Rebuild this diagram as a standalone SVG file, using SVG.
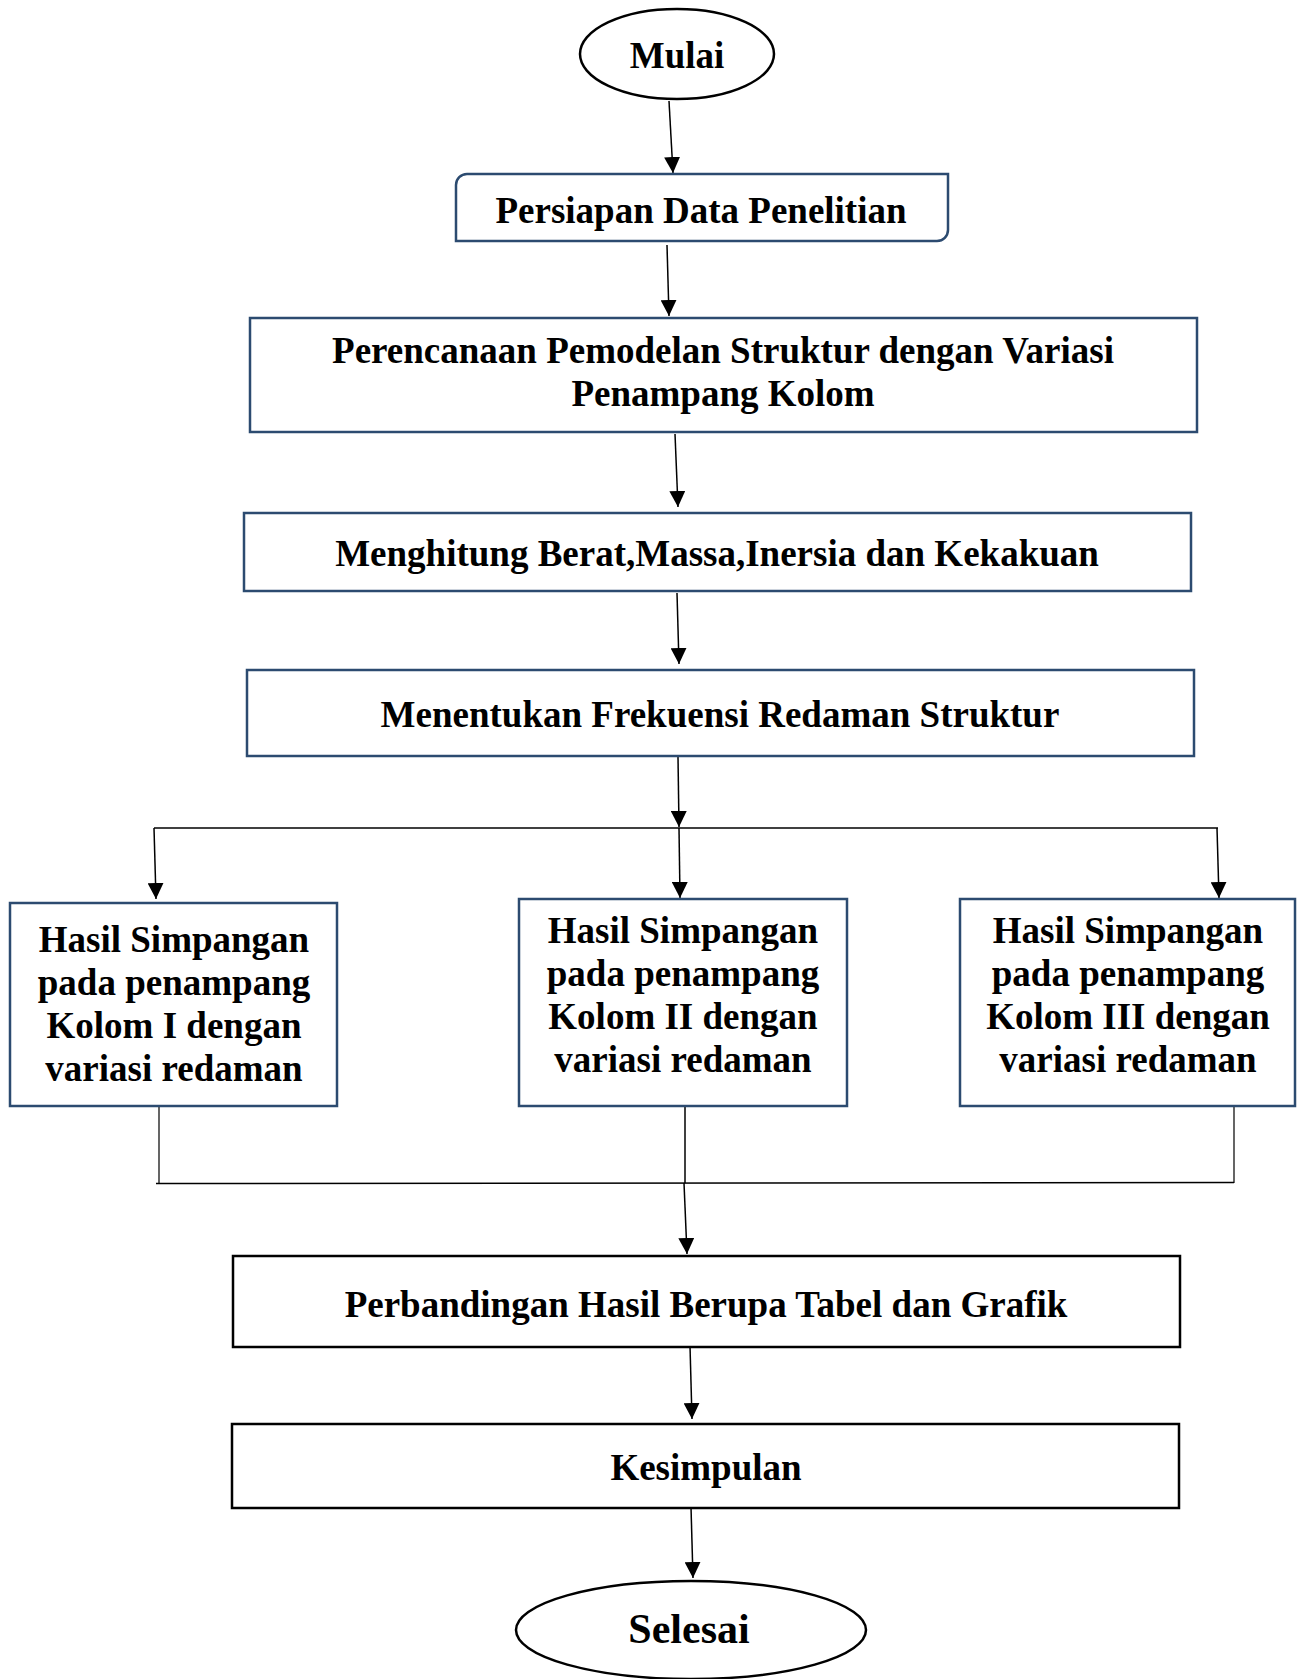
<svg xmlns="http://www.w3.org/2000/svg" width="1299" height="1679" viewBox="0 0 1299 1679">
<style>
.t{font-family:"Liberation Serif","Times New Roman",serif;font-weight:bold;font-size:37px;fill:#000;text-anchor:middle}
.bx{fill:#fff;stroke:#2c4b70;stroke-width:2.5}
.bk{fill:#fff;stroke:#000;stroke-width:2.5}
.el{fill:#fff;stroke:#000;stroke-width:2.5}
.c{stroke:#000;stroke-width:1.5;fill:none}
.g{stroke:#555;stroke-width:1.8;fill:none}
</style>
<defs>
<marker id="ah" markerUnits="userSpaceOnUse" markerWidth="16" markerHeight="16" refX="16" refY="8" orient="auto">
<path d="M0,0 L16,8 L0,16 Z" fill="#000"/>
</marker>
</defs>
<rect width="1299" height="1679" fill="#fff"/>
<g id="connectors">
<line class="c" x1="669" y1="101" x2="673" y2="173" marker-end="url(#ah)"/>
<line class="c" x1="667" y1="245" x2="669" y2="316" marker-end="url(#ah)"/>
<line class="c" x1="675" y1="434" x2="678" y2="507" marker-end="url(#ah)"/>
<line class="c" x1="677" y1="593" x2="679" y2="664" marker-end="url(#ah)"/>
<line class="c" x1="678" y1="757" x2="679" y2="827" marker-end="url(#ah)"/>
<line class="c" x1="154" y1="828" x2="1218" y2="828"/>
<line class="c" x1="154" y1="828" x2="156" y2="899" marker-end="url(#ah)"/>
<line class="c" x1="679" y1="828" x2="680" y2="898" marker-end="url(#ah)"/>
<line class="c" x1="1217" y1="828" x2="1219" y2="898" marker-end="url(#ah)"/>
<line class="g" x1="159" y1="1106" x2="159" y2="1183"/>
<line class="g" x1="1234" y1="1106" x2="1234" y2="1183"/>
<line class="c" x1="685" y1="1106" x2="685" y2="1183"/>
<line class="c" x1="156" y1="1183.5" x2="1234" y2="1182.5"/>
<line class="c" x1="684" y1="1183" x2="687" y2="1254" marker-end="url(#ah)"/>
<line class="c" x1="690" y1="1346" x2="692" y2="1419" marker-end="url(#ah)"/>
<line class="c" x1="691" y1="1507" x2="693" y2="1578" marker-end="url(#ah)"/>
</g>
<g id="mulai">
<ellipse class="el" cx="677" cy="54" rx="97" ry="45"/>
<text class="t" x="677" y="68">Mulai</text>
</g>
<g id="persiapan">
<path class="bx" d="M467 174 H948 V230 A11 11 0 0 1 937 241 H456 V185 A11 11 0 0 1 467 174 Z"/>
<text class="t" x="701" y="223">Persiapan Data Penelitian</text>
</g>
<g id="perencanaan">
<rect class="bx" x="250" y="318" width="947" height="114"/>
<text class="t" x="723" y="363">Perencanaan Pemodelan Struktur dengan Variasi</text>
<text class="t" x="723" y="406">Penampang Kolom</text>
</g>
<g id="menghitung">
<rect class="bx" x="244" y="513" width="947" height="78"/>
<text class="t" x="717" y="566">Menghitung Berat,Massa,Inersia dan Kekakuan</text>
</g>
<g id="menentukan">
<rect class="bx" x="247" y="670" width="947" height="86"/>
<text class="t" x="720" y="727">Menentukan Frekuensi Redaman Struktur</text>
</g>
<g id="kolom1">
<rect class="bx" x="10" y="903" width="327" height="203"/>
<text class="t" x="174" y="952">Hasil Simpangan</text>
<text class="t" x="174" y="995">pada penampang</text>
<text class="t" x="174" y="1038">Kolom I dengan</text>
<text class="t" x="174" y="1081">variasi redaman</text>
</g>
<g id="kolom2">
<rect class="bx" x="519" y="899" width="328" height="207"/>
<text class="t" x="683" y="943">Hasil Simpangan</text>
<text class="t" x="683" y="986">pada penampang</text>
<text class="t" x="683" y="1029">Kolom II dengan</text>
<text class="t" x="683" y="1072">variasi redaman</text>
</g>
<g id="kolom3">
<rect class="bx" x="960" y="899" width="335" height="207"/>
<text class="t" x="1128" y="943">Hasil Simpangan</text>
<text class="t" x="1128" y="986">pada penampang</text>
<text class="t" x="1128" y="1029">Kolom III dengan</text>
<text class="t" x="1128" y="1072">variasi redaman</text>
</g>
<g id="perbandingan">
<rect class="bk" x="233" y="1256" width="947" height="91"/>
<text class="t" x="706" y="1317">Perbandingan Hasil Berupa Tabel dan Grafik</text>
</g>
<g id="kesimpulan">
<rect class="bk" x="232" y="1424" width="947" height="84"/>
<text class="t" x="706" y="1480">Kesimpulan</text>
</g>
<g id="selesai">
<ellipse class="el" cx="691" cy="1630" rx="175" ry="49"/>
<text class="t" x="689" y="1643" style="font-size:42px">Selesai</text>
</g>
</svg>
